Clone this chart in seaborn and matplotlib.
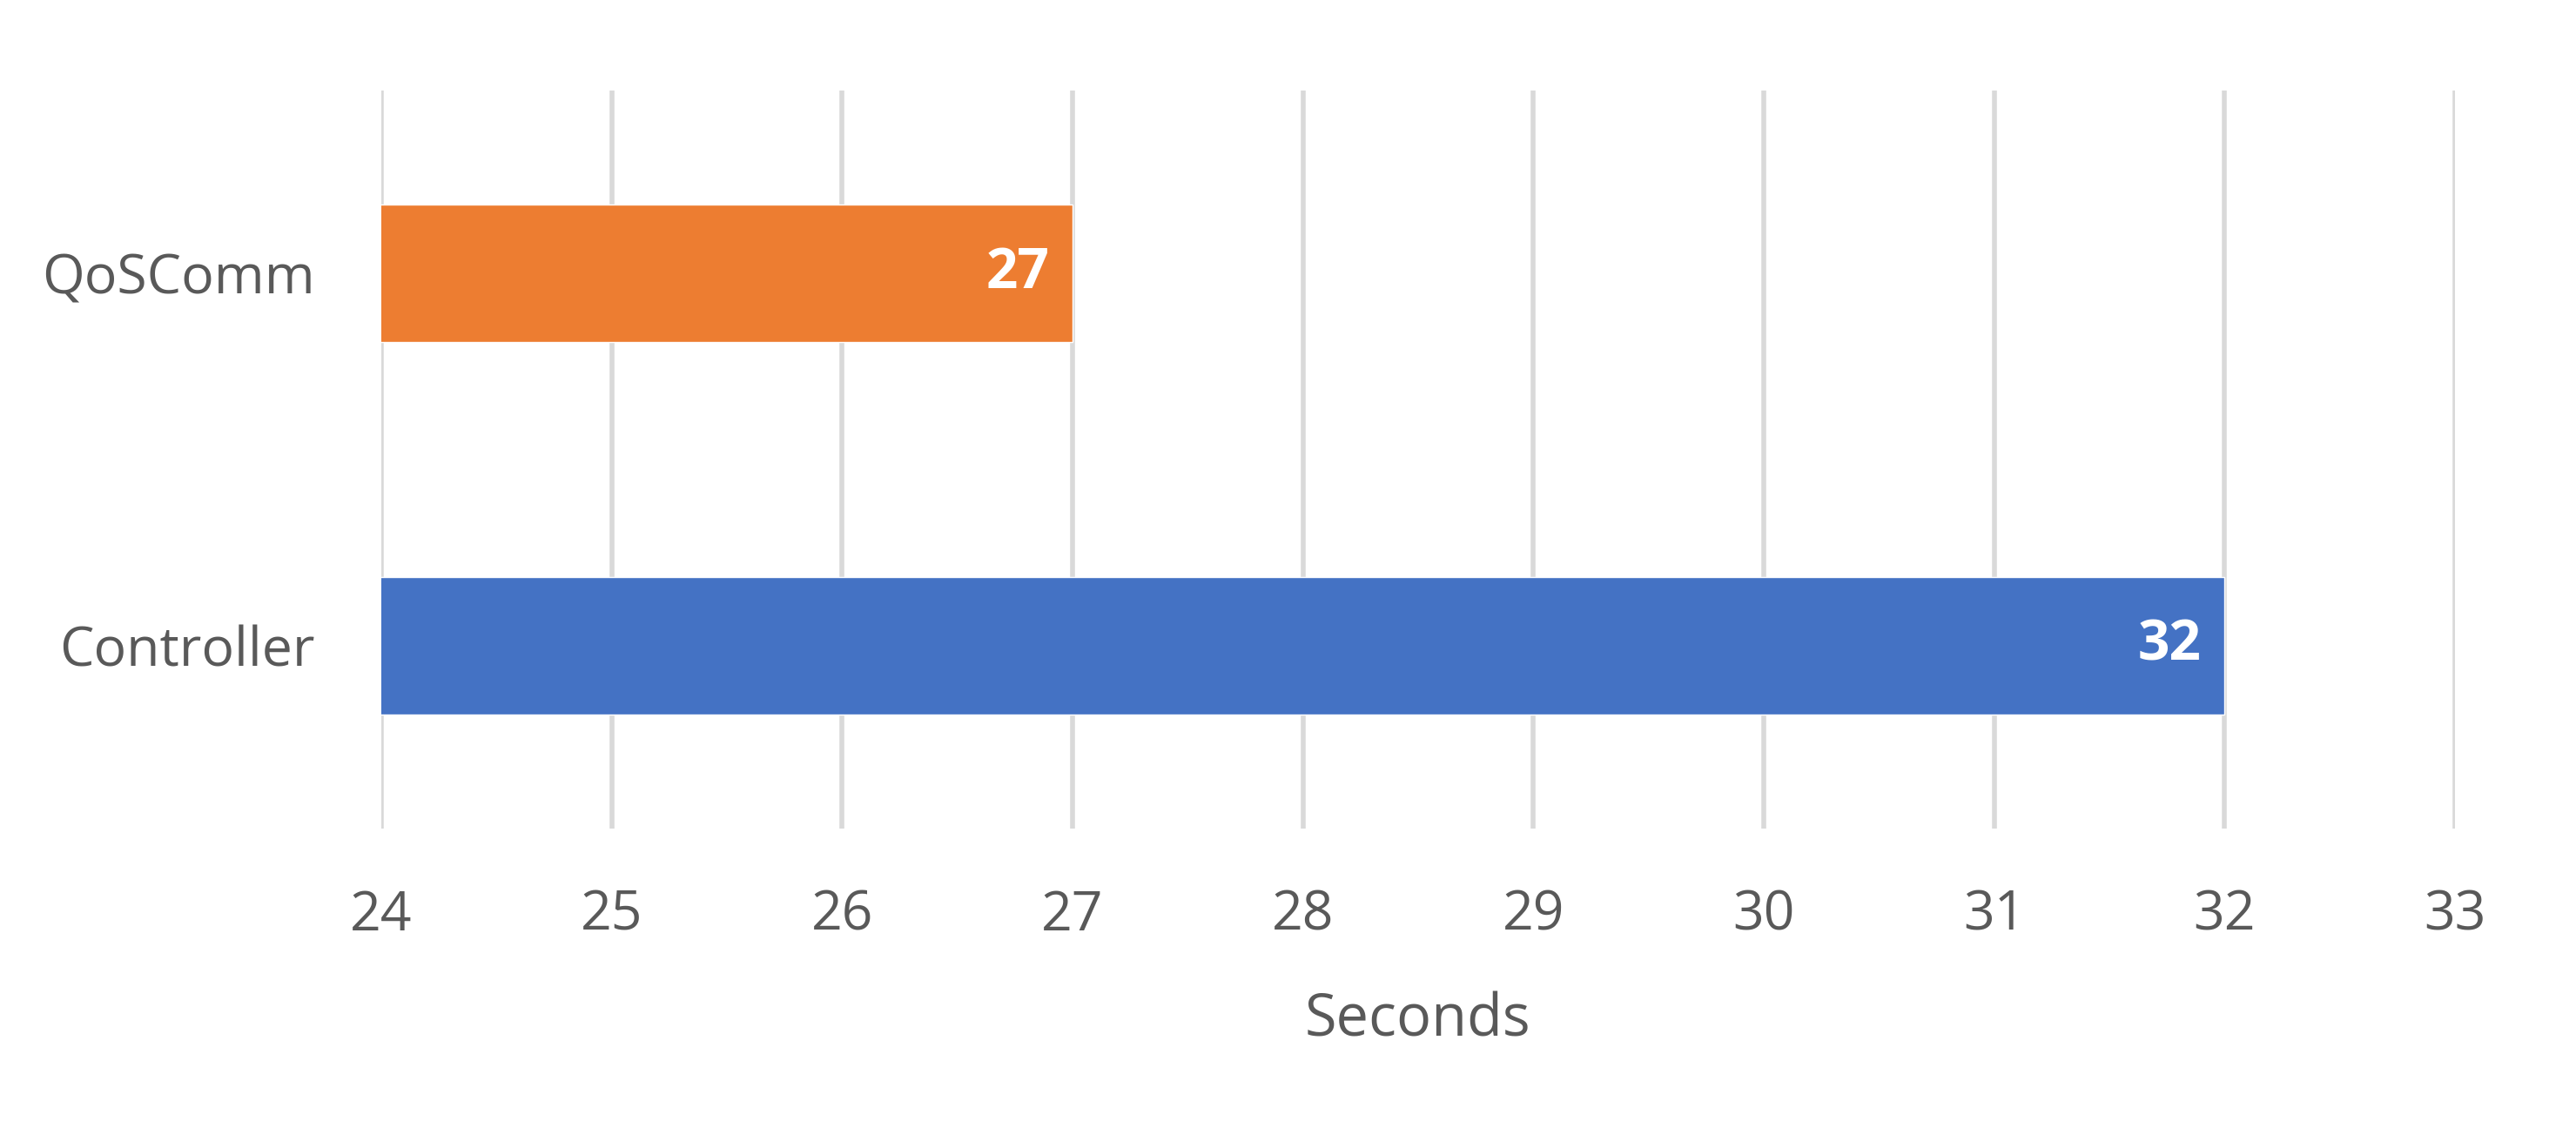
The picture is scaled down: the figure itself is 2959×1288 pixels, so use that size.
import matplotlib
matplotlib.use("Agg")
import matplotlib.pyplot as plt
import seaborn as sns
import pandas as pd

categories = ["QoSComm", "Controller"]
seconds = [27, 32]
bar_colors = ["#ED7D31", "#4472C4"]
x_ticks = list(range(24, 34))

sns.set_style("white")
plt.rcParams['font.family'] = ['Open Sans', 'DejaVu Sans']

df = pd.DataFrame({"cat": categories, "sec": seconds})

fig = plt.figure(figsize=(29.59, 12.88), dpi=100)
ax = fig.add_axes([0.148, 0.261, 0.805, 0.658])
sns.barplot(data=df, x="sec", y="cat", hue="cat", palette=bar_colors,
            orient="h", width=0.37, legend=False, ax=ax, zorder=3,
            saturation=1)

ax.set_xlim(24, 33)
ax.set_ylim(1.49, -0.49)
ax.set_xticks(x_ticks)
ax.grid(axis="x", color="#D9D9D9", linewidth=4, zorder=0)
for s in ax.spines.values():
    s.set_visible(False)
ax.tick_params(axis="both", length=0, labelsize=45, labelcolor="#595959")
ax.tick_params(axis="x", pad=50)
ax.tick_params(axis="y", pad=55)
ax.set_ylabel("")
ax.set_xlabel("Seconds", fontsize=48, color="#595959", labelpad=40)

for i, v in enumerate(seconds):
    ax.text(v - 0.1, i, str(v), ha="right", va="center", color="white",
            fontsize=46, fontweight="bold", zorder=4)

fig.savefig("out.png", dpi=100)
